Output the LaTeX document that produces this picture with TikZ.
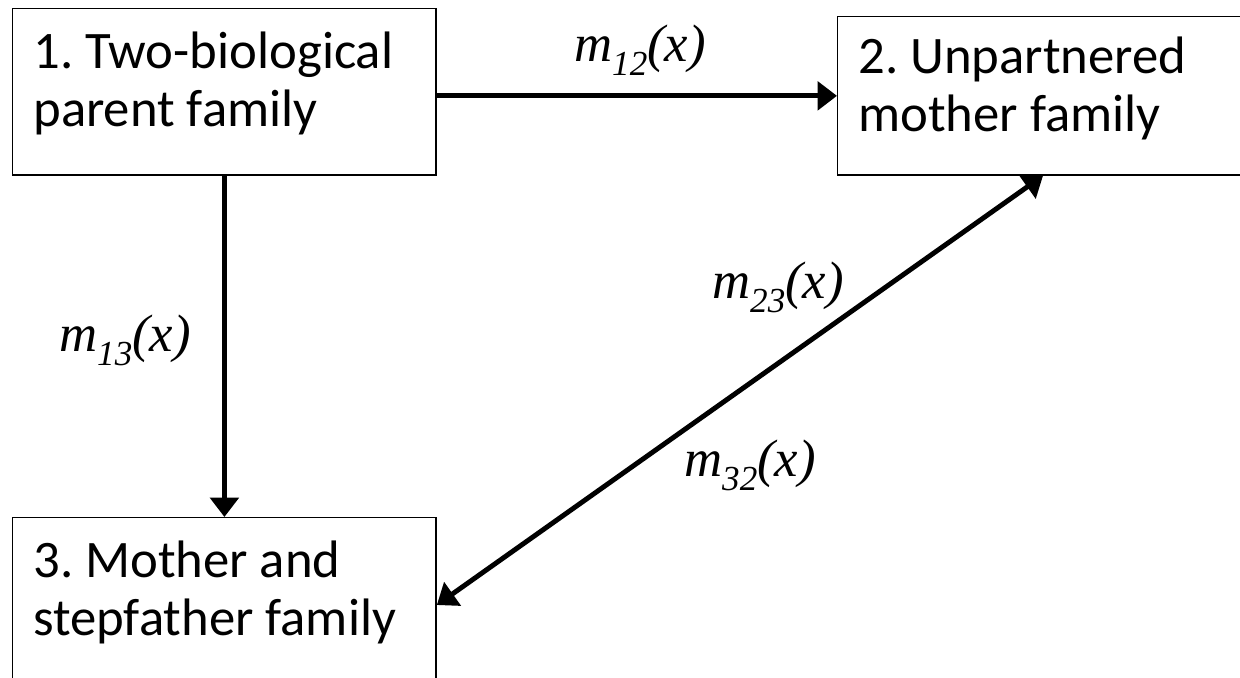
\documentclass[tikz,border=0pt]{standalone}
\usepackage{fontspec}
\setmainfont{Carlito}
\newfontfamily\ratefont{Liberation Serif}
\usetikzlibrary{arrows.meta,calc,positioning}
\frenchspacing
\newcommand\rate[1]{{\ratefont\itshape m\raisebox{-8pt}{\fontsize{20}{20}\selectfont #1}(x)}}
\tikzset{
  every node/.style={font=\fontsize{30}{33}\selectfont},
  family/.style={draw=black, line width=0.8pt, anchor=north west, inner sep=0pt},
  family text/.style={anchor=base west, align=flush left, inner sep=0pt},
  rate label/.style={font=\fontsize{30}{30}\selectfont, inner sep=0pt},
  move/.style={line width=2.8pt, -{Triangle[length=11pt,width=16pt]}},
  move both/.style={move, {Triangle[length=11pt,width=16pt]}-{Triangle[length=11pt,width=16pt]}}
}

\begin{document}
\begin{tikzpicture}[x=0.02cm,y=-0.02cm,line cap=butt,line join=miter]
  \useasboundingbox (0,0) rectangle (1240,677);
  \clip (0,0) rectangle (1240,677);

  % the three family states
  \node[family, minimum width=241pt, minimum height=94.7pt] (fam1) at (12,8) {};
  \node[family, minimum width=238pt, minimum height=90.1pt] (fam2) at (837,16) {};
  \node[family, minimum width=241pt, minimum height=100pt] (fam3) at (12,517) {};

  % base anchor sits on the last line
  \node[family text] (txt1) at ($(fam1.north west)+(21,118)$) {1. Two-biological\\parent family};
  \node[family text] (txt2) at ($(fam2.north west)+(21,115)$) {2. Unpartnered\\mother family};
  \node[family text] (txt3) at ($(fam3.north west)+(21,118)$) {3. Mother and\\stepfather family};

  \coordinate (end2) at ($(fam2.south west)+(206,0)$);
  \coordinate (end3) at ($(fam3.north east)+(0,88)$);

  % transitions
  \draw[move] (fam2.west -| fam1.east) -- (fam2.west);
  \draw[move] (fam1.south) -- (fam1.south |- fam3.north);
  \draw[move both] (end3) -- (end2);

  \node[rate label] (r12) at (640,50) {\rate{12}};
  \node[rate label] (r13) at (125,340) {\rate{13}};
  \node[rate label] (r23) at (778,287) {\rate{23}};
  \node[rate label] (r32) at (750,465) {\rate{32}};

\end{tikzpicture}
\end{document}
